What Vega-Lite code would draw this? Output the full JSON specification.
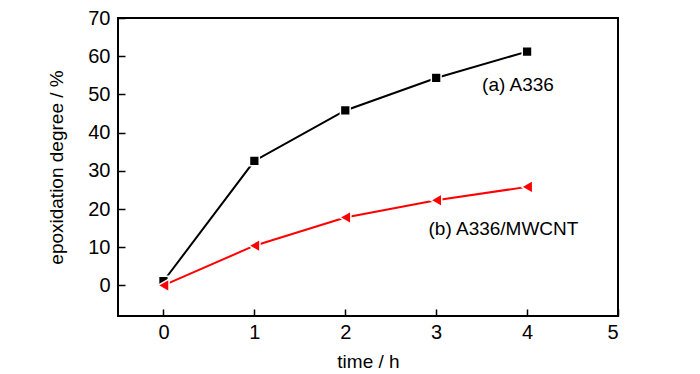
{
  "$schema": "https://vega.github.io/schema/vega-lite/v6.json",
  "width": 500,
  "height": 298,
  "autosize": {"type": "none"},
  "padding": {"left": 118, "top": 18, "right": 82, "bottom": 58},
  "background": "white",
  "config": {
    "font": "Liberation Sans",
    "view": {"stroke": "black", "strokeWidth": 2},
    "axis": {
      "grid": false,
      "domain": false,
      "ticks": true,
      "tickColor": "black",
      "tickWidth": 1.5,
      "tickSize": 7,
      "offset": -7,
      "labelFont": "Liberation Sans",
      "labelFontSize": 20,
      "labelColor": "black",
      "titleFont": "Liberation Sans",
      "titleFontSize": 19,
      "titleFontWeight": "normal",
      "titleColor": "black"
    }
  },
  "datasets": {
    "series": [
      {"time": 0, "degree": 1.1, "series": "(a) A336"},
      {"time": 1, "degree": 32.6, "series": "(a) A336"},
      {"time": 2, "degree": 45.8, "series": "(a) A336"},
      {"time": 3, "degree": 54.3, "series": "(a) A336"},
      {"time": 4, "degree": 61.2, "series": "(a) A336"},
      {"time": 0, "degree": 0.0, "series": "(b) A336/MWCNT"},
      {"time": 1, "degree": 10.4, "series": "(b) A336/MWCNT"},
      {"time": 2, "degree": 17.8, "series": "(b) A336/MWCNT"},
      {"time": 3, "degree": 22.3, "series": "(b) A336/MWCNT"},
      {"time": 4, "degree": 25.8, "series": "(b) A336/MWCNT"}
    ],
    "labelA": [{"label": "(a) A336"}],
    "labelB": [{"label": "(b) A336/MWCNT"}]
  },
  "layer": [
    {
      "data": {"name": "series"},
      "mark": {"type": "line", "strokeWidth": 2},
      "encoding": {
        "x": {
          "field": "time",
          "type": "quantitative",
          "scale": {"domain": [-0.5, 5], "nice": false, "zero": false},
          "axis": {"values": [0, 1, 2, 3, 4, 5], "format": "d", "title": "time / h", "labelPadding": 6, "titlePadding": 10}
        },
        "y": {
          "field": "degree",
          "type": "quantitative",
          "scale": {"domain": [-8, 70], "nice": false, "zero": false},
          "axis": {"values": [0, 10, 20, 30, 40, 50, 60, 70], "format": "d", "title": "epoxidation degree / %", "labelPadding": 8, "titlePadding": 21}
        },
        "color": {
          "field": "series",
          "type": "nominal",
          "scale": {"domain": ["(a) A336", "(b) A336/MWCNT"], "range": ["black", "#ff0000"]},
          "legend": null
        }
      }
    },
    {
      "data": {"name": "series"},
      "mark": {"type": "point", "filled": true, "opacity": 1, "stroke": "white", "strokeWidth": 1.5},
      "encoding": {
        "x": {"field": "time", "type": "quantitative"},
        "y": {"field": "degree", "type": "quantitative"},
        "color": {"field": "series", "type": "nominal", "legend": null},
        "shape": {
          "field": "series",
          "type": "nominal",
          "scale": {"domain": ["(a) A336", "(b) A336/MWCNT"], "range": ["square", "triangle-left"]},
          "legend": null
        },
        "size": {
          "field": "series",
          "type": "nominal",
          "scale": {"domain": ["(a) A336", "(b) A336/MWCNT"], "range": [95, 165]},
          "legend": null
        }
      }
    },
    {
      "data": {"name": "labelA"},
      "mark": {"type": "text", "fontSize": 19, "font": "Liberation Sans", "fontWeight": "normal", "fill": "black"},
      "encoding": {
        "x": {"datum": 3.9, "type": "quantitative"},
        "y": {"datum": 52.5, "type": "quantitative"},
        "text": {"field": "label", "type": "nominal"}
      }
    },
    {
      "data": {"name": "labelB"},
      "mark": {"type": "text", "fontSize": 19, "font": "Liberation Sans", "fontWeight": "normal", "fill": "black"},
      "encoding": {
        "x": {"datum": 3.74, "type": "quantitative"},
        "y": {"datum": 14.8, "type": "quantitative"},
        "text": {"field": "label", "type": "nominal"}
      }
    }
  ]
}
